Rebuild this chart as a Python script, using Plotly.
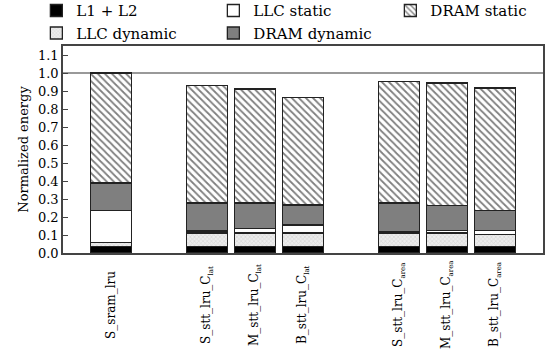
import plotly.graph_objects as go

SUB = "<sub><span style='font-size:7px'>{}</span></sub>"
categories = ["S_sram_lru",
              "S_stt_lru_C" + SUB.format("lat"), "M_stt_lru_C" + SUB.format("lat"), "B_stt_lru_C" + SUB.format("lat"),
              "S_stt_lru_C" + SUB.format("area"), "M_stt_lru_C" + SUB.format("area"), "B_stt_lru_C" + SUB.format("area")]
# axis order with empty gap slots
category_order = [categories[0], " ", categories[1], categories[2], categories[3], "  ",
                  categories[4], categories[5], categories[6]]

l1_l2 = [0.037, 0.037, 0.037, 0.037, 0.037, 0.037, 0.037]
llc_dynamic = [0.022, 0.074, 0.074, 0.074, 0.074, 0.074, 0.067]
llc_static = [0.176, 0.011, 0.026, 0.045, 0.009, 0.014, 0.022]
dram_dynamic = [0.154, 0.156, 0.141, 0.111, 0.158, 0.138, 0.111]
dram_static = [0.611, 0.651, 0.633, 0.598, 0.674, 0.681, 0.680]

reference_level = 1.0
y_ticks = [0.0, 0.1, 0.2, 0.3, 0.4, 0.5, 0.6, 0.7, 0.8, 0.9, 1.0, 1.1]

FONT = "DejaVu Serif, Liberation Serif, serif"
edge = dict(color="#222222", width=1.3)

fig = go.Figure()
fig.add_bar(x=categories, y=l1_l2, name="L1 + L2", legendrank=1,
            marker=dict(color="black", line=edge))
fig.add_bar(x=categories, y=llc_dynamic, name="LLC dynamic", legendrank=4,
            marker=dict(color="#e6e6e6", line=edge,
                        pattern=dict(shape="x", fgcolor="#c4c4c4", bgcolor="#ececec", size=3, solidity=0.4)))
fig.add_bar(x=categories, y=llc_static, name="LLC static", legendrank=2,
            marker=dict(color="white", line=edge))
fig.add_bar(x=categories, y=dram_dynamic, name="DRAM dynamic", legendrank=5,
            marker=dict(color="#7f7f7f", line=edge))
fig.add_bar(x=categories, y=dram_static, name="DRAM static", legendrank=3,
            marker=dict(color="white", line=edge,
                        pattern=dict(shape="\\", fgcolor="black", bgcolor="white", size=5, solidity=0.35)))

fig.add_hline(y=reference_level, line=dict(color="#777777", width=1.5), layer="below")

# rotated category labels, centred below the axis
for cat in categories:
    fig.add_annotation(x=cat, xref="x", y=-0.251, yref="paper", text=cat, textangle=-90,
                       showarrow=False, xanchor="center", yanchor="middle",
                       font=dict(family=FONT, size=12, color="black"))

fig.update_layout(
    barmode="stack",
    bargap=0.15,
    width=559, height=360,
    margin=dict(l=63, r=16, t=46, b=107, autoexpand=False),
    plot_bgcolor="white", paper_bgcolor="white",
    font=dict(family=FONT, size=13, color="black"),
    legend=dict(orientation="h", x=-0.0555, y=1.25, xanchor="left", yanchor="top",
                entrywidth=132, entrywidthmode="pixels",
                font=dict(family=FONT, size=15), tracegroupgap=0,
                traceorder="normal", bgcolor="rgba(0,0,0,0)"),
    showlegend=True,
)
fig.update_xaxes(type="category", categoryorder="array", categoryarray=category_order,
                 range=[-1, 9], showticklabels=False, showgrid=False, ticks="",
                 showline=True, mirror=True, linecolor="#444444", linewidth=1.5)
fig.update_yaxes(range=[0, 1.15], tickvals=y_ticks, tickformat=".1f", ticks="inside", ticklen=5,
                 tickcolor="#444444", showgrid=False, zeroline=False,
                 showline=True, mirror=True, linecolor="#444444", linewidth=1.5,
                 title=dict(text="Normalized energy", font=dict(family=FONT, size=13), standoff=6),
                 tickfont=dict(family=FONT, size=13))

fig.write_html("out.html")
